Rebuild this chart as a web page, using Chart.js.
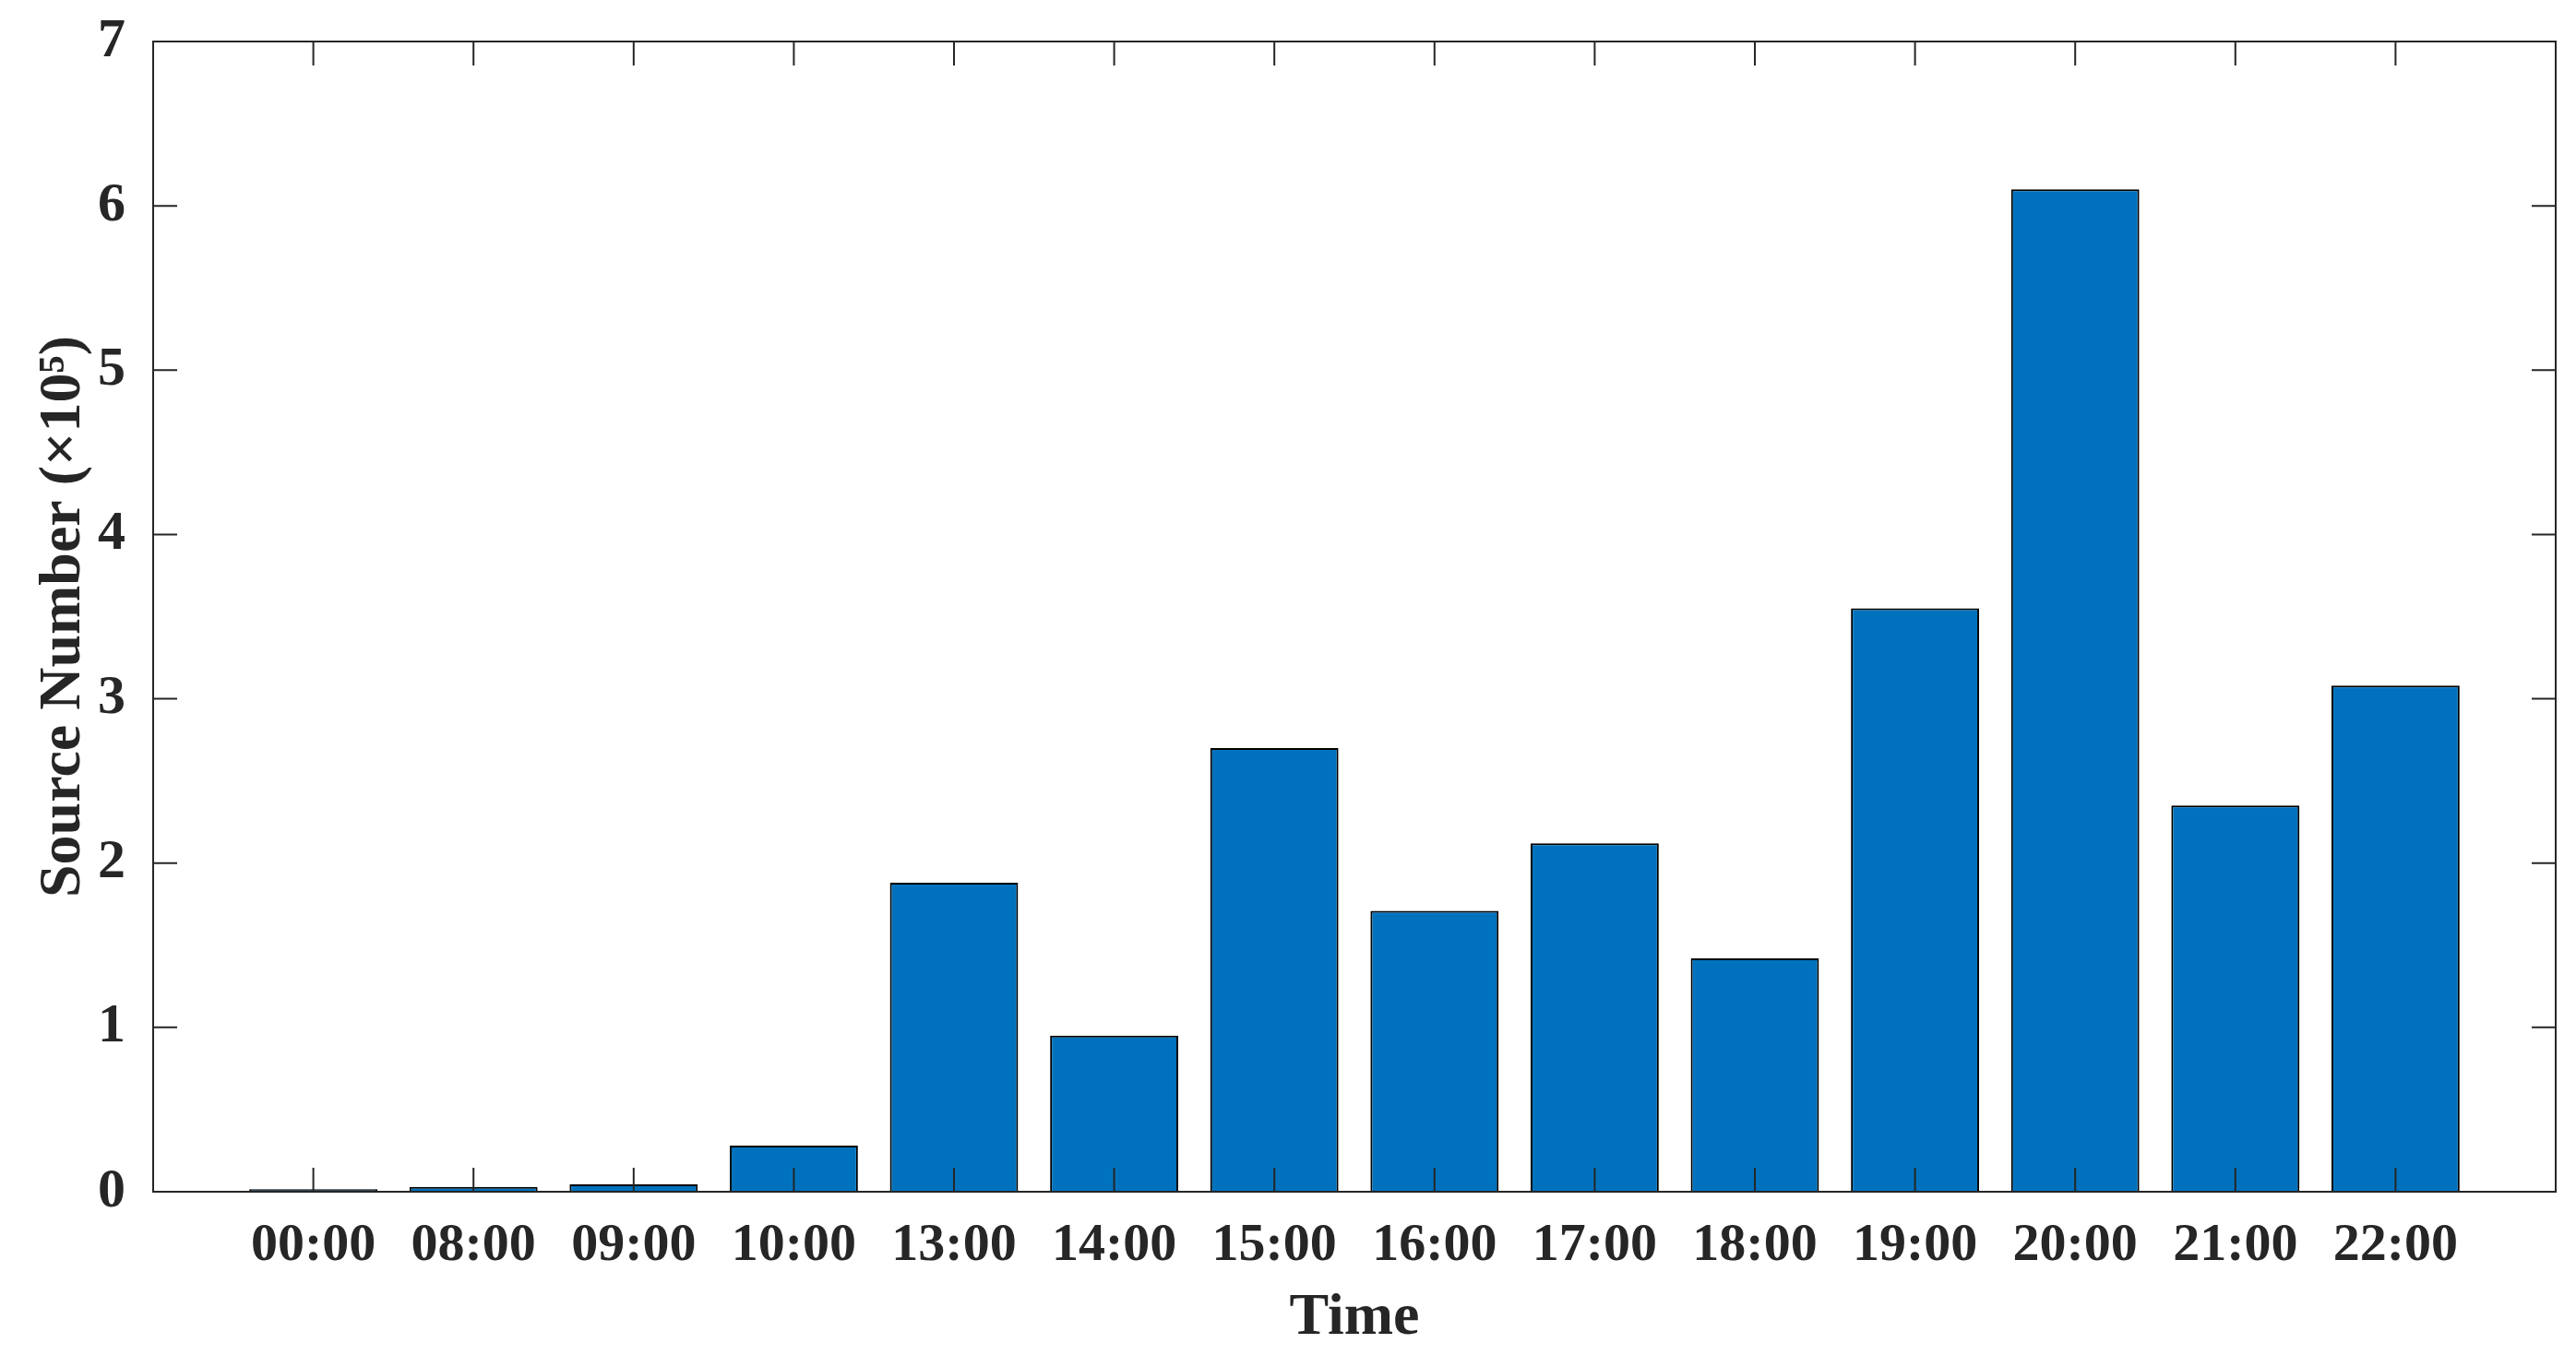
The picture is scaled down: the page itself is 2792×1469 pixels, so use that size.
<!DOCTYPE html>
<html lang="en">

<head>
    <meta charset="UTF-8">
    <title>Source Number by Time</title>
    <style>
        body { margin: 0; background: #fff; }
        #box { width: 2792px; height: 1469px; }
    </style>
</head>

<body>
    <div id="box">
        <canvas id="myChart"></canvas>
    </div>
    <script src="https://cdn.jsdelivr.net/npm/chart.js"></script>
    <script>
        // times on the x axis
        const timeLabels = ['00:00', '08:00', '09:00', '10:00', '13:00', '14:00', '15:00',
            '16:00', '17:00', '18:00', '19:00', '20:00', '21:00', '22:00'];
        // source number, in units of 10^5
        const sourceNumber = [0.015, 0.03, 0.045, 0.28, 1.88, 0.95, 2.70,
            1.71, 2.12, 1.42, 3.55, 6.10, 2.35, 3.08];
        const yTicks = [0, 1, 2, 3, 4, 5, 6, 7];

        // matlab style axis runs from 0 to 15, so pad one empty slot at each end
        const labels = [''].concat(timeLabels, ['']);
        const values = [null].concat(sourceNumber, [null]);

        const ink = '#262626';
        const fontName = '"Liberation Serif", "Times New Roman", serif';

        // box round the plot + ticks pointing inwards on all four sides
        const frameTicks = {
            id: 'frameTicks',
            afterDatasetsDraw(chart) {
                const ctx = chart.ctx;
                const a = chart.chartArea;
                const xs = chart.scales.x;
                const ys = chart.scales.y;
                const len = 26;
                ctx.save();
                ctx.strokeStyle = ink;
                ctx.lineWidth = 2;
                ctx.beginPath();
                for (let i = 1; i <= timeLabels.length; i++) {
                    const px = xs.getPixelForValue(i);
                    ctx.moveTo(px, a.bottom);
                    ctx.lineTo(px, a.bottom - len);
                    ctx.moveTo(px, a.top);
                    ctx.lineTo(px, a.top + len);
                }
                yTicks.forEach(v => {
                    const py = ys.getPixelForValue(v);
                    ctx.moveTo(a.left, py);
                    ctx.lineTo(a.left + len, py);
                    ctx.moveTo(a.right, py);
                    ctx.lineTo(a.right - len, py);
                });
                ctx.stroke();
                ctx.strokeRect(a.left, a.top, a.right - a.left, a.bottom - a.top);
                ctx.restore();
            }
        };

        const ctx = document.getElementById('myChart');

        new Chart(ctx, {
            type: 'bar',
            data: {
                labels: labels,
                datasets: [{
                    label: 'Source Number',
                    data: values,
                    backgroundColor: '#0072BD',
                    borderColor: '#000000',
                    borderWidth: 2,
                    barPercentage: 0.8,
                    categoryPercentage: 1
                }]
            },
            options: {
                responsive: true,
                maintainAspectRatio: false,
                animation: false,
                layout: {
                    padding: { top: 45, right: 22, left: 0, bottom: 0 }
                },
                scales: {
                    x: {
                        offset: false,
                        grid: { display: false },
                        border: { display: false },
                        ticks: {
                            autoSkip: false,
                            maxRotation: 0,
                            padding: 22,
                            color: ink,
                            font: { family: fontName, size: 58, weight: 'bold', lineHeight: 1 }
                        },
                        title: {
                            display: true,
                            text: 'Time',
                            color: ink,
                            padding: { top: 0, bottom: 8 },
                            font: { family: fontName, size: 64, weight: 'bold', lineHeight: 1 }
                        },
                        afterFit(scale) {
                            scale.height = 177;
                            scale.paddingLeft = 0;
                            scale.paddingRight = 0;
                        }
                    },
                    y: {
                        min: 0,
                        max: 7,
                        grid: { display: false },
                        border: { display: false },
                        ticks: {
                            stepSize: 1,
                            padding: 22,
                            color: ink,
                            font: { family: fontName, size: 60, weight: 'bold', lineHeight: 1 }
                        },
                        title: {
                            display: true,
                            text: 'Source Number (×10⁵)',
                            color: ink,
                            padding: { top: 37, bottom: 0 },
                            font: { family: fontName, size: 64, weight: 'bold', lineHeight: 1 }
                        },
                        afterFit(scale) {
                            scale.width = 166;
                            scale.paddingTop = 0;
                            scale.paddingBottom = 0;
                        }
                    }
                },
                plugins: {
                    legend: { display: false },
                    tooltip: { enabled: false }
                }
            },
            plugins: [frameTicks]
        });
    </script>
</body>

</html>
